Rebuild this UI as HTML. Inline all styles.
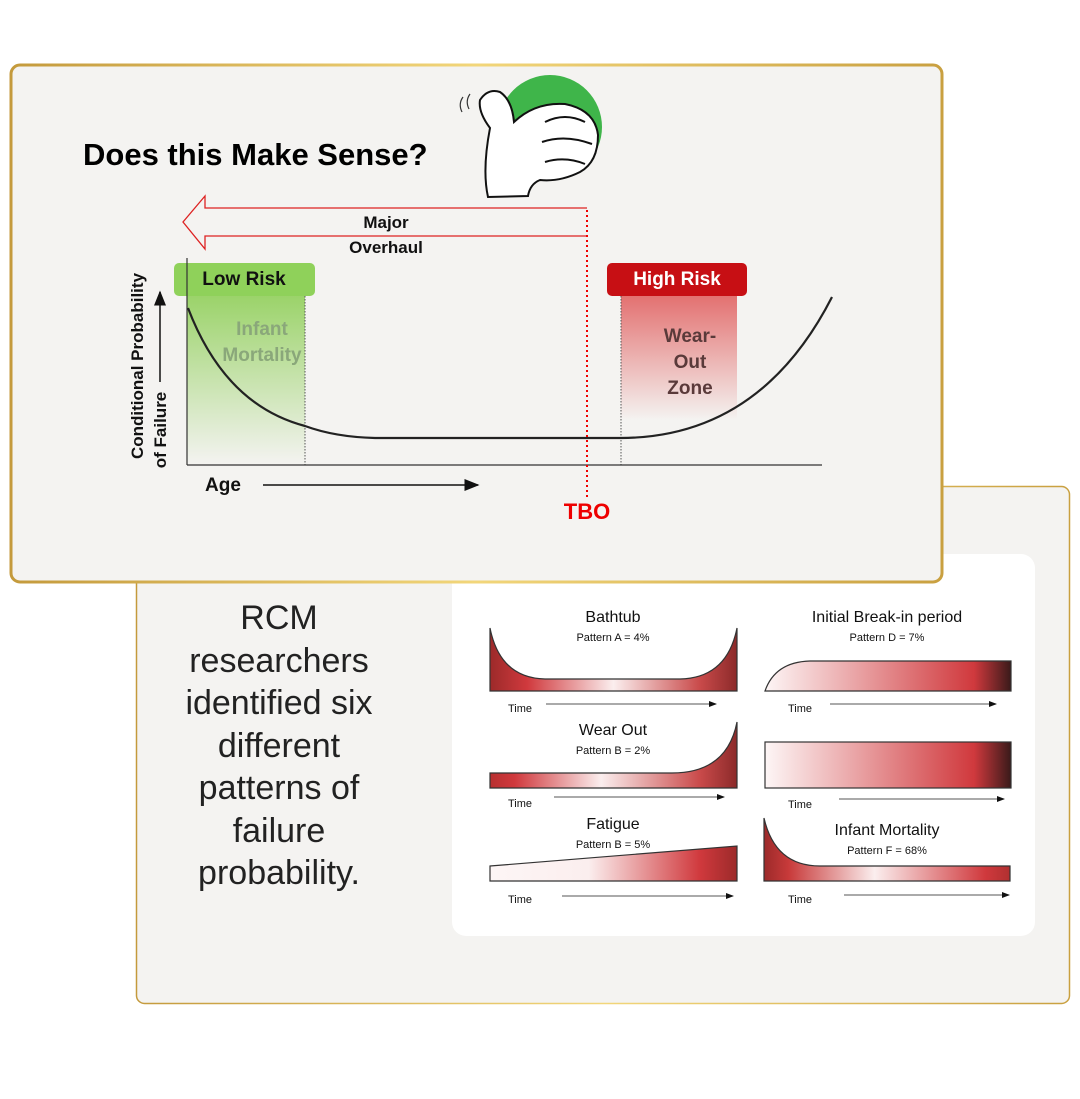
<!DOCTYPE html>
<html><head><meta charset="utf-8"><style>
html,body{margin:0;padding:0;background:#fff;}
body{width:1080px;height:1094px;position:relative;overflow:hidden;font-family:"Liberation Sans",sans-serif;}
</style></head><body>
<svg width="1080" height="1094" viewBox="0 0 1080 1094" xmlns="http://www.w3.org/2000/svg" font-family="Liberation Sans, sans-serif">
<defs>
<linearGradient id="gold" x1="0" x2="1" y1="0" y2="0"><stop offset="0" stop-color="#c49a3c"/><stop offset="0.5" stop-color="#f2d67a"/><stop offset="1" stop-color="#c9a040"/></linearGradient>
<linearGradient id="tub" x1="0" x2="1"><stop offset="0" stop-color="#9c2a2a"/><stop offset="0.15" stop-color="#d0393d"/><stop offset="0.5" stop-color="#fbeeee"/><stop offset="0.85" stop-color="#c94a4a"/><stop offset="1" stop-color="#8c2a2a"/></linearGradient>
<linearGradient id="rise" x1="0" x2="1"><stop offset="0" stop-color="#fdf6f6"/><stop offset="0.85" stop-color="#d0393d"/><stop offset="1" stop-color="#3a1a1a"/></linearGradient>
<linearGradient id="wear" x1="0" x2="1"><stop offset="0" stop-color="#b83030"/><stop offset="0.1" stop-color="#d0393d"/><stop offset="0.45" stop-color="#fbeeee"/><stop offset="0.85" stop-color="#c94a4a"/><stop offset="1" stop-color="#8c2a2a"/></linearGradient>
<linearGradient id="fat" x1="0" x2="1"><stop offset="0" stop-color="#fdf6f6"/><stop offset="0.4" stop-color="#fbeeee"/><stop offset="0.85" stop-color="#d0393d"/><stop offset="1" stop-color="#9c2a2a"/></linearGradient>
<linearGradient id="inf" x1="0" x2="1"><stop offset="0" stop-color="#9c2a2a"/><stop offset="0.1" stop-color="#c83a3a"/><stop offset="0.45" stop-color="#fbeeee"/><stop offset="0.9" stop-color="#d0393d"/><stop offset="1" stop-color="#b03030"/></linearGradient>
<linearGradient id="greenz" x1="0" x2="0" y1="0" y2="1"><stop offset="0" stop-color="#9bd36a"/><stop offset="1" stop-color="#9bd36a" stop-opacity="0"/></linearGradient>
<linearGradient id="redz" x1="0" x2="0" y1="0" y2="1"><stop offset="0" stop-color="#e05a5a" stop-opacity="0.85"/><stop offset="1" stop-color="#e05a5a" stop-opacity="0"/></linearGradient>
<marker id="ah" markerWidth="8" markerHeight="6" refX="7" refY="3" orient="auto"><path d="M0,0 L8,3 L0,6 Z" fill="#111"/></marker>
<marker id="ah2" markerWidth="10" markerHeight="8" refX="9" refY="4" orient="auto"><path d="M0,0 L10,4 L0,8 Z" fill="#111"/></marker>
</defs>

<rect x="136.5" y="486.5" width="933" height="517" rx="8" fill="#f4f3f1" stroke="url(#gold)" stroke-width="1.5"/>
<rect x="452" y="554" width="583" height="382" rx="14" fill="#fff"/>
<g font-size="34" fill="#222" text-anchor="middle">
<text x="279" y="629">RCM</text>
<text x="279" y="672">researchers</text>
<text x="279" y="714">identified six</text>
<text x="279" y="757">different</text>
<text x="279" y="799">patterns of</text>
<text x="279" y="842">failure</text>
<text x="279" y="884">probability.</text>
</g>

<g font-size="16" fill="#111" text-anchor="middle">
<text x="613" y="622">Bathtub</text>
<text x="887" y="622">Initial Break-in period</text>
<text x="613" y="735">Wear Out</text>
<text x="613" y="829">Fatigue</text>
<text x="887" y="835">Infant Mortality</text>
</g>
<g font-size="11" fill="#111" text-anchor="middle">
<text x="613" y="641">Pattern A = 4%</text>
<text x="887" y="641">Pattern D = 7%</text>
<text x="613" y="754">Pattern B = 2%</text>
<text x="613" y="848">Pattern B = 5%</text>
<text x="887" y="854">Pattern F = 68%</text>
</g>
<g stroke="#333" stroke-width="1.2">
<path d="M490,628 Q500,678 545,679 L680,679 Q727,678 737,628 L737,691 L490,691 Z" fill="url(#tub)"/>
<path d="M765,691 Q775,662 810,661 L1011,661 L1011,691 Z" fill="url(#rise)"/>
<path d="M490,773 L672,773 Q727,773 737,722 L737,788 L490,788 Z" fill="url(#wear)"/>
<rect x="765" y="742" width="246" height="46" fill="url(#rise)"/>
<path d="M490,866 L737,846 L737,881 L490,881 Z" fill="url(#fat)"/>
<path d="M764,818 Q775,866 820,866 L1010,866 L1010,881 L764,881 Z" fill="url(#inf)"/>
</g>
<g font-size="11" fill="#111">
<text x="508" y="712">Time</text><text x="788" y="712">Time</text>
<text x="508" y="807">Time</text><text x="788" y="808">Time</text>
<text x="508" y="903">Time</text><text x="788" y="903">Time</text>
</g>
<g stroke="#555" stroke-width="1" marker-end="url(#ah)">
<line x1="546" y1="704" x2="716" y2="704"/>
<line x1="830" y1="704" x2="996" y2="704"/>
<line x1="554" y1="797" x2="724" y2="797"/>
<line x1="839" y1="799" x2="1004" y2="799"/>
<line x1="562" y1="896" x2="733" y2="896"/>
<line x1="844" y1="895" x2="1009" y2="895"/>
</g>

<rect x="11" y="65" width="931" height="517" rx="9" fill="#f4f3f1" stroke="url(#gold)" stroke-width="3"/>
<text x="83" y="165" font-size="31" font-weight="bold" fill="#000">Does this Make Sense?</text>

<g>
<circle cx="550" cy="127" r="52" fill="#3fb54a"/>
<path d="M584,79 L597,88" stroke="#f4f3f1" stroke-width="5"/>
<path d="M498,158 L490,168" stroke="#f4f3f1" stroke-width="4"/>
<path d="M490,128 Q478,112 480,100 Q488,88 500,92 Q512,100 514,122 Q535,102 565,104 Q595,110 598,135 Q598,162 580,172 Q560,182 540,180 Q530,184 528,196 L488,197 Q482,170 490,128 Z" fill="#fff" stroke="#111" stroke-width="2"/>
<path d="M545,122 Q565,112 585,122 M542,142 Q565,134 592,144 M545,162 Q565,156 585,164" fill="none" stroke="#111" stroke-width="2"/>
<path d="M463,97 Q458,104 462,112 M470,94 Q465,101 469,109" fill="none" stroke="#333" stroke-width="1.2"/>
</g>

<path d="M587,208 L205,208 L205,196 L183,222 L205,249 L205,236 L587,236" fill="none" stroke="#d22" stroke-width="1.3"/>
<text x="386" y="228" font-size="17" font-weight="bold" text-anchor="middle" fill="#111">Major</text>
<text x="386" y="253" font-size="17" font-weight="bold" text-anchor="middle" fill="#111">Overhaul</text>

<rect x="187" y="296" width="118" height="169" fill="url(#greenz)"/>
<rect x="621" y="296" width="116" height="124" fill="url(#redz)"/>
<line x1="305" y1="296" x2="305" y2="465" stroke="#555" stroke-width="1" stroke-dasharray="1.5,1.5"/>
<line x1="621" y1="296" x2="621" y2="465" stroke="#555" stroke-width="1" stroke-dasharray="1.5,1.5"/>
<rect x="174" y="263" width="141" height="33" rx="5" fill="#8fd15a"/>
<text x="244" y="285" font-size="19" font-weight="bold" text-anchor="middle" fill="#111">Low Risk</text>
<rect x="607" y="263" width="140" height="33" rx="5" fill="#c70f14"/>
<text x="677" y="285" font-size="19" font-weight="bold" text-anchor="middle" fill="#fff">High Risk</text>
<g font-size="19" font-weight="bold" text-anchor="middle">
<text x="262" y="335" fill="#8aa77a">Infant</text>
<text x="262" y="361" fill="#8aa77a">Mortality</text>
<text x="690" y="342" fill="#5a3a3a">Wear-</text>
<text x="690" y="368" fill="#5a3a3a">Out</text>
<text x="690" y="394" fill="#5a3a3a">Zone</text>
</g>

<line x1="187" y1="258" x2="187" y2="465" stroke="#333" stroke-width="1.2"/>
<line x1="187" y1="465" x2="822" y2="465" stroke="#333" stroke-width="1.2"/>
<path d="M188,308 Q225,405 305,426 Q335,437 375,438 L620,438 Q760,438 832,297" fill="none" stroke="#222" stroke-width="2.2"/>
<line x1="587" y1="210" x2="587" y2="500" stroke="#e00" stroke-width="2" stroke-dasharray="2,3"/>
<text x="587" y="519" font-size="22" font-weight="bold" text-anchor="middle" fill="#e00">TBO</text>
<text x="205" y="491" font-size="19" font-weight="bold" fill="#111">Age</text>
<line x1="263" y1="485" x2="478" y2="485" stroke="#111" stroke-width="1.5" marker-end="url(#ah2)"/>
<g font-size="17" font-weight="bold" fill="#111" text-anchor="middle">
<text transform="translate(143,366) rotate(-90)">Conditional Probability</text>
<text transform="translate(166,430) rotate(-90)">of Failure</text>
</g>
<line x1="160" y1="382" x2="160" y2="292" stroke="#111" stroke-width="1.5" marker-end="url(#ah2)"/>
</svg>
</body></html>
